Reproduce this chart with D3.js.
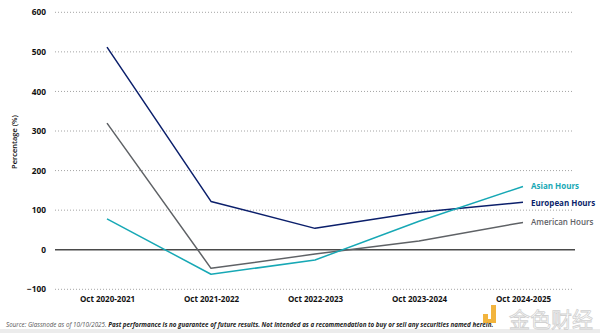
<!DOCTYPE html>
<html>
<head>
<meta charset="utf-8">
<script src="https://cdn.jsdelivr.net/npm/d3@7"></script>
<style>
  body { margin: 0; background: #fff; }
  svg { display: block; font-family: "Open Sans", sans-serif; }
</style>
</head>
<body>
<svg id="chart" width="600" height="333"></svg>
<script>
// periods on the x axis
var periods = ["Oct 2020-2021", "Oct 2021-2022", "Oct 2022-2023", "Oct 2023-2024", "Oct 2024-2025"];

// returns per trading session (%)
var europeanHours = [512, 122, 54, 95, 120];
var asianHours = [78, -62, -26, 72, 160];
var americanHours = [320, -47, -11, 22, 69];

var yTicks = [-100, 0, 100, 200, 300, 400, 500, 600];

var seriesNames = ["Asian Hours", "European Hours", "American Hours"];

var width = 600,
	height = 333;

var svg = d3.select("#chart");

var x = d3.scalePoint()
	.domain(periods)
	.range([107, 523]);

var y = d3.scaleLinear()
	.domain([-100, 600])
	.range([289.3, 12.3]);

// grid lines, dotted
var grid = svg.append("g").attr("class", "grid");
grid.selectAll("line")
	.data(yTicks.filter(function (d) { return d != 0 }))
	.enter()
	.append("line")
	.attr("x1", 55)
	.attr("x2", 574)
	.attr("y1", function (d) { return y(d) })
	.attr("y2", function (d) { return y(d) })
	.attr("stroke", "#9a9a9a")
	.attr("stroke-width", 0.9)
	.attr("stroke-dasharray", "1,2");

// zero line
svg.append("line")
	.attr("x1", 55)
	.attr("x2", 575)
	.attr("y1", y(0))
	.attr("y2", y(0))
	.attr("stroke", "#4a4a4a")
	.attr("stroke-width", 1.3);

// y axis labels
var yAxis = svg.append("g")
	.attr("transform", "translate(46,0)")
	.call(d3.axisLeft(y).tickValues(yTicks).tickSize(0).tickPadding(0));
yAxis.select(".domain").remove();
yAxis.selectAll("text")
	.attr("font-family", "Open Sans")
	.attr("font-size", 8.3)
	.attr("font-weight", 700)
	.attr("fill", "#111");

// x axis labels
var xAxis = svg.append("g")
	.attr("transform", "translate(0,296)")
	.call(d3.axisBottom(x).tickSize(0).tickPadding(0));
xAxis.select(".domain").remove();
xAxis.selectAll("text")
	.attr("font-family", "Open Sans")
	.attr("font-size", 8)
	.attr("font-weight", 700)
	.attr("fill", "#111");

// y axis title
svg.append("text")
	.attr("transform", "translate(17,142) rotate(-90)")
	.attr("text-anchor", "middle")
	.attr("font-size", 7.5)
	.attr("font-weight", 600)
	.attr("fill", "#111")
	.text("Percentage (%)");

var series = [
	{ name: seriesNames[1], values: europeanHours, color: "#0b1f6b", weight: 700 },
	{ name: seriesNames[2], values: americanHours, color: "#5f6266", weight: 600 },
	{ name: seriesNames[0], values: asianHours, color: "#17a8b5", weight: 700 }
];

var line = d3.line()
	.x(function (d, i) { return x(periods[i]) })
	.y(function (d) { return y(d) });

svg.selectAll(".series")
	.data(series)
	.enter()
	.append("path")
	.attr("class", "series")
	.attr("d", function (d) { return line(d.values) })
	.attr("fill", "none")
	.attr("stroke", function (d) { return d.color })
	.attr("stroke-width", 1.5)
	.attr("stroke-linejoin", "round");

// end labels, nudged apart
var labelOffset = { "Asian Hours": 1, "European Hours": 2, "American Hours": 1 };
svg.selectAll(".end-label")
	.data(series)
	.enter()
	.append("text")
	.attr("class", "end-label")
	.attr("x", 531)
	.attr("y", function (d) { return y(d.values[d.values.length - 1]) + labelOffset[d.name] + 2 })
	.attr("font-size", 8)
	.attr("font-weight", function (d) { return d.weight })
	.attr("fill", function (d) { return d.color })
	.text(function (d) { return d.name });

// footer band
svg.append("rect")
	.attr("x", 0)
	.attr("y", 329)
	.attr("width", width)
	.attr("height", 4)
	.attr("fill", "#ececec");

// source note
var note = svg.append("text")
	.attr("x", 6)
	.attr("y", 327)
	.attr("font-size", 6.25)
	.attr("font-style", "italic")
	.attr("fill", "#222");
note.append("tspan")
	.attr("fill", "#555")
	.text("Source: Glassnode as of 10/10/2025. ");
note.append("tspan")
	.attr("font-weight", 700)
	.text("Past performance is no guarantee of future results. Not intended as a recommendation to buy or sell any securities named herein.");

// watermark
var mark = svg.append("g").attr("opacity", 0.85);
mark.append("rect").attr("x", 483).attr("y", 314).attr("width", 5).attr("height", 6).attr("fill", "#f0a81c");
mark.append("path")
	.attr("d", "M491,305 h5 v18 h-13 v-4 h8 z")
	.attr("fill", "#f0a81c");
mark.append("text")
	.attr("x", 509)
	.attr("y", 327)
	.attr("font-family", "Noto Sans CJK SC")
	.attr("font-size", 21)
	.attr("fill", "#fff")
	.attr("stroke", "#c9c9c9")
	.attr("stroke-width", 0.8)
	.text("金色财经");
</script>
</body>
</html>
